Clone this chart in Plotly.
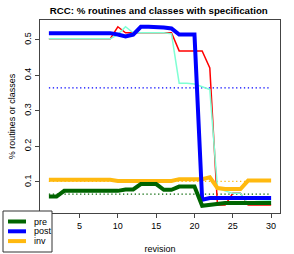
import plotly.graph_objects as go

revision = list(range(1, 31))

pre = [0.059, 0.059, 0.075, 0.075, 0.075, 0.075, 0.075, 0.075, 0.075, 0.075,
       0.079, 0.079, 0.094, 0.094, 0.094, 0.078, 0.078, 0.087, 0.087, 0.087,
       0.033, 0.036, 0.040, 0.041, 0.041, 0.041, 0.041, 0.041, 0.041, 0.041]
post = [0.519, 0.519, 0.519, 0.519, 0.519, 0.519, 0.519, 0.519, 0.519, 0.515,
        0.510, 0.515, 0.537, 0.537, 0.537, 0.535, 0.532, 0.515, 0.515, 0.515,
        0.050, 0.055, 0.055, 0.055, 0.055, 0.055, 0.055, 0.055, 0.055, 0.055]
inv = [0.106, 0.106, 0.106, 0.106, 0.106, 0.106, 0.106, 0.106, 0.106, 0.103,
       0.103, 0.103, 0.103, 0.103, 0.103, 0.103, 0.103, 0.108, 0.108, 0.108,
       0.108, 0.113, 0.083, 0.080, 0.080, 0.080, 0.104, 0.104, 0.104, 0.104]
red_series = [0.503, 0.503, 0.503, 0.503, 0.503, 0.503, 0.503, 0.503, 0.503, 0.537,
              0.520, 0.520, 0.520, 0.520, 0.520, 0.520, 0.520, 0.469, 0.469, 0.469,
              0.469, 0.421, 0.035, 0.035, 0.068, 0.068, 0.035, 0.035, 0.035, 0.035]
aqua_series = [0.503, 0.503, 0.503, 0.503, 0.503, 0.503, 0.503, 0.503, 0.503, 0.515,
               0.537, 0.520, 0.520, 0.520, 0.520, 0.520, 0.517, 0.378, 0.378, 0.376,
               0.368, 0.360, 0.082, 0.074, 0.068, 0.068, 0.037, 0.045, 0.047, 0.047]
avg_post = 0.365
avg_pre = 0.066
avg_inv = 0.102

legend_names = ["pre", "post", "inv"]

x_ticks = [5, 10, 15, 20, 25, 30]
y_ticks = [0.1, 0.2, 0.3, 0.4, 0.5]

GREEN = "#006400"
BLUE = "#0000FF"
ORANGE = "#FFB90F"
RED = "#FF0000"
AQUA = "#7FFFD4"
legend_colors = [GREEN, BLUE, ORANGE]

fig = go.Figure()

def hline(val, color):
    fig.add_trace(go.Scatter(x=[revision[0], revision[-1]], y=[val, val], mode="lines",
                             line=dict(color=color, width=1.3, dash="1.3px,2.6px"),
                             showlegend=False, hoverinfo="skip"))

hline(avg_post, BLUE)
hline(avg_pre, GREEN)
hline(avg_inv, ORANGE)

fig.add_trace(go.Scatter(x=revision, y=red_series, mode="lines",
                         line=dict(color=RED, width=1.5), showlegend=False))
fig.add_trace(go.Scatter(x=revision, y=aqua_series, mode="lines",
                         line=dict(color=AQUA, width=1.5), showlegend=False))
fig.add_trace(go.Scatter(x=revision, y=inv, mode="lines", name="inv",
                         line=dict(color=ORANGE, width=4), showlegend=False))
fig.add_trace(go.Scatter(x=revision, y=post, mode="lines", name="post",
                         line=dict(color=BLUE, width=4), showlegend=False))
fig.add_trace(go.Scatter(x=revision, y=pre, mode="lines", name="pre",
                         line=dict(color=GREEN, width=4), showlegend=False))

FONT = "Liberation Sans, Arial, sans-serif"

# manual legend box (paper coordinates; plot area is 240 x 193 px)
PW, PH = 240.0, 193.0
def px_x(p):
    return (p - 40) / PW
def px_y(p):
    return (213 - p) / PH

shapes = [dict(type="rect", xref="paper", yref="paper",
               x0=px_x(3), x1=px_x(52), y0=px_y(252), y1=px_y(211),
               fillcolor="white", line=dict(color="#333333", width=1), layer="above")]
annotations = []
for i, (name, col) in enumerate(zip(legend_names, legend_colors)):
    yy = px_y(221.5 + 9.8 * i)
    shapes.append(dict(type="line", xref="paper", yref="paper",
                       x0=px_x(8), x1=px_x(26), y0=yy, y1=yy,
                       line=dict(color=col, width=4), layer="above"))
    annotations.append(dict(text=name, xref="paper", yref="paper", x=px_x(32), y=yy,
                            xanchor="left", yanchor="middle", showarrow=False,
                            font=dict(size=9, family=FONT, color="black")))

fig.update_layout(
    width=294, height=254,
    margin=dict(l=40, r=14, t=20, b=41, autoexpand=False),
    paper_bgcolor="white", plot_bgcolor="white",
    font=dict(family=FONT, size=9, color="black"),
    title=dict(text="<b>RCC: % routines and classes with specification</b>",
               x=0.54, xanchor="center", y=0.96, yanchor="middle",
               font=dict(size=9.7, family=FONT)),
    showlegend=False,
    shapes=shapes,
    annotations=annotations,
    xaxis=dict(range=[-0.16, 31.16], tickvals=x_ticks, ticks="outside", ticklen=4,
               showline=True, mirror=True, linecolor="#444444", linewidth=1,
               showgrid=False, zeroline=False,
               title=dict(text="revision", font=dict(size=9), standoff=15)),
    yaxis=dict(range=[0.0127, 0.556], tickvals=y_ticks, ticktext=[str(v) for v in y_ticks],
               ticks="outside", ticklen=4, tickangle=-90,
               showline=True, mirror=True, linecolor="#444444", linewidth=1,
               showgrid=False, zeroline=False,
               title=dict(text="% routines or classes", font=dict(size=9), standoff=6)),
)

fig.write_html("out.html", config={"displayModeBar": False},
               post_script="document.body.style.margin='0';document.body.style.overflow='hidden';")
